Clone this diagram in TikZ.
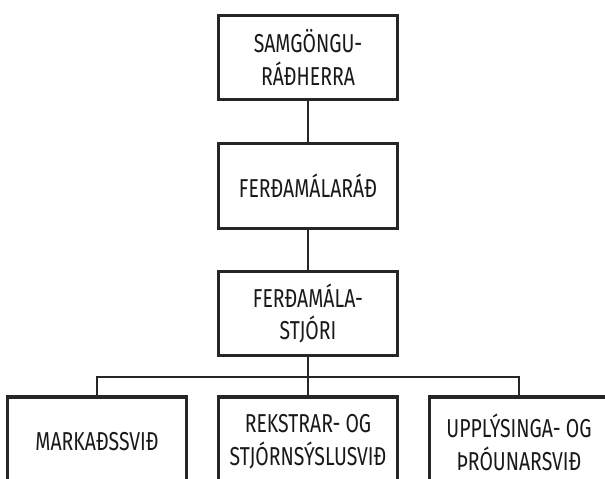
\documentclass[tikz,border=0pt]{standalone}
\usepackage{fontspec}
\setmainfont{Fira Sans}[FakeStretch=0.75]
\begin{document}
\begin{tikzpicture}[x=1bp,y=-1bp,
  unit/.style={draw=black!85, line width=3.6bp, fill=white, minimum width=179bp,
    minimum height=84bp, align=center, inner sep=0pt,
    font=\fontsize{26}{33}\selectfont, text=black!90},
  link/.style={draw=black!85, line width=2.8bp}]
\clip (0,0) rectangle (605,479);
\fill[white] (0,0) rectangle (605,479);

% chain of command
\node[unit] (radherra) at (308,57.5) {SAMGÖNGU-\\RÁÐHERRA};
\node[unit, minimum height=85bp] (rad) at (308,186) {FERÐAMÁLARÁÐ};
\node[unit] (stjori) at (308,313.5) {FERÐAMÁLA-\\STJÓRI};

% divisions
\node[unit, minimum height=90bp] (mark) at (97,442) {MARKAÐSSVIÐ};
\node[unit, minimum height=90bp] (rekst) at (308,442) {REKSTRAR- OG\\STJÓRNSÝSLUSVIÐ};
\node[unit, minimum height=90bp] (uppl) at (519,442) {UPPLÝSINGA- OG\\ÞRÓUNARSVIÐ};

\coordinate (bus) at (308,377);

\draw[link] (radherra) -- (rad);
\draw[link] (rad) -- (stjori);
\draw[link] (stjori) -- (bus);
\draw[link] (mark.north) |- (bus) -| (uppl.north);
\draw[link] (bus) -- (rekst.north);
\end{tikzpicture}
\end{document}
